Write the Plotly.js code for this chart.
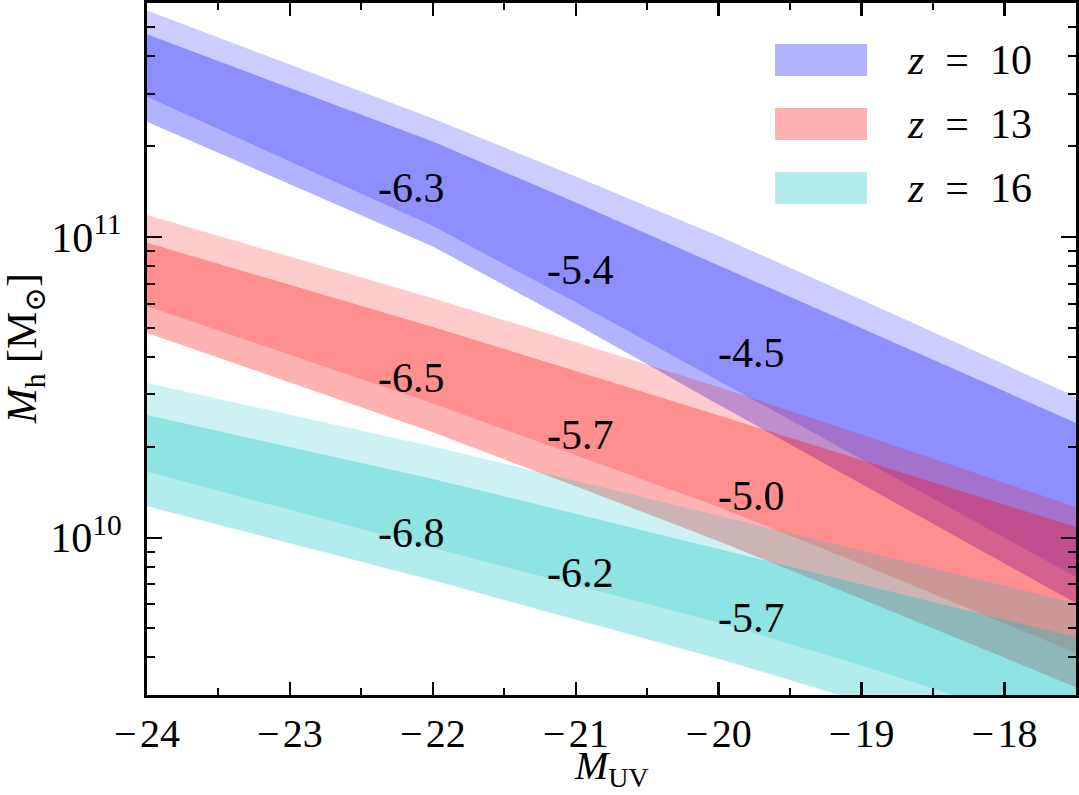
<!DOCTYPE html>
<html><head><meta charset="utf-8">
<script src="https://cdn.plot.ly/plotly-3.0.1.min.js"></script>
<style>html,body{margin:0;padding:0;background:#fff}#chart{width:1079px;height:795px}</style>
</head><body><div id="chart"></div>
<script>
// Absolute UV magnitude grid
const M_UV = [-24, -23, -22, -21, -20, -19, -18, -17.5];

// z = 10 : band 1 (upper) and band 2 (lower), halo mass [M_sun]
const z10_band1_hi = [5.66e11, 3.75e11, 2.48e11, 1.589e11, 1.007e11, 6.19e10, 3.77e10, 2.94e10];
const z10_band1_lo = [2.927e11, 1.785e11, 1.087e11, 6.07e10, 3.316e10, 1.818e10, 9.99e9, 7.40e9];
const z10_band2_hi = [4.72e11, 3.131e11, 2.077e11, 1.302e11, 8.06e10, 4.97e10, 3.068e10, 2.406e10];
const z10_band2_lo = [2.417e11, 1.499e11, 9.30e10, 5.14e10, 2.770e10, 1.505e10, 8.22e9, 6.06e9];

// z = 13
const z13_band1_hi = [1.183e11, 8.61e10, 6.26e10, 4.467e10, 3.170e10, 2.204e10, 1.522e10, 1.265e10];
const z13_band1_lo = [5.89e10, 4.06e10, 2.796e10, 1.885e10, 1.265e10, 8.17e9, 5.19e9, 4.135e9];
const z13_band2_hi = [9.57e10, 6.93e10, 5.02e10, 3.585e10, 2.554e10, 1.815e10, 1.288e10, 1.085e10];
const z13_band2_lo = [4.80e10, 3.281e10, 2.242e10, 1.483e10, 9.74e9, 6.26e9, 3.994e9, 3.186e9];

// z = 16
const z16_band1_hi = [3.269e10, 2.566e10, 2.013e10, 1.548e10, 1.184e10, 9.06e9, 6.93e9, 6.06e9];
const z16_band1_lo = [1.657e10, 1.239e10, 9.25e9, 6.95e9, 5.23e9, 3.757e9, 2.647e9, 2.223e9];
const z16_band2_hi = [2.558e10, 2.002e10, 1.568e10, 1.202e10, 9.18e9, 7.01e9, 5.35e9, 4.67e9];
const z16_band2_lo = [1.274e10, 9.59e9, 7.22e9, 5.355e9, 3.960e9, 2.852e9, 2.032e9, 1.713e9];

// In-band number labels
const labelM = [-22.15, -20.97, -19.77];
const z10_labels = ['-6.3', '-5.4', '-4.5'];
const z10_labelMh = [1.455e11, 7.76e10, 4.11e10];
const z13_labels = ['-6.5', '-5.7', '-5.0'];
const z13_labelMh = [3.40e10, 2.19e10, 1.374e10];
const z16_labels = ['-6.8', '-6.2', '-5.7'];
const z16_labelMh = [1.035e10, 7.62e9, 5.41e9];

// Legend
const redshifts = ['10', '13', '16'];
const rgb = ['0,0,255', '255,0,0', '0,191,191'];

const xTicks = [-24, -23, -22, -21, -20, -19, -18];
const xTickText = xTicks.map(v => '\u2212\u200A' + Math.abs(v));
const yTicks = [1e10, 1e11];
const yTickText = ['10<sup>10</sup>', '10<sup>11</sup>'];

const FONT = "Liberation Serif, DejaVu Serif, serif";
const FS = 42;

function band(hi, lo, color, alpha) {
  return {
    x: M_UV.concat(M_UV.slice().reverse()),
    y: hi.concat(lo.slice().reverse()),
    type: 'scatter', mode: 'lines', fill: 'toself',
    fillcolor: 'rgba(' + color + ',' + alpha + ')',
    line: {width: 0, color: 'rgba(0,0,0,0)'},
    hoverinfo: 'skip', showlegend: false
  };
}

const traces = [
  band(z10_band1_hi, z10_band1_lo, rgb[0], 0.2),
  band(z10_band2_hi, z10_band2_lo, rgb[0], 0.3),
  band(z13_band1_hi, z13_band1_lo, rgb[1], 0.2),
  band(z13_band2_hi, z13_band2_lo, rgb[1], 0.3),
  band(z16_band1_hi, z16_band1_lo, rgb[2], 0.2),
  band(z16_band2_hi, z16_band2_lo, rgb[2], 0.3)
];

const annotations = [];
[[z10_labels, z10_labelMh], [z13_labels, z13_labelMh], [z16_labels, z16_labelMh]].forEach(([txt, mh]) => {
  txt.forEach((t, i) => {
    annotations.push({x: labelM[i], y: Math.log10(mh[i]), xref: 'x', yref: 'y', text: t,
      showarrow: false, font: {family: FONT, size: FS, color: '#000'}});
  });
});

const shapes = [];
const legTop = [0.9408, 0.8483, 0.7558];
redshifts.forEach((z, i) => {
  shapes.push({type: 'rect', xref: 'paper', yref: 'paper', x0: 0.676, x1: 0.775,
    y0: legTop[i] - 0.0463, y1: legTop[i], fillcolor: 'rgba(' + rgb[i] + ',0.3)', line: {width: 0}});
  annotations.push({xref: 'paper', yref: 'paper', x: 0.816, y: legTop[i] - 0.0232, xanchor: 'left',
    yanchor: 'middle', showarrow: false, text: '<i>z</i>\u2002=\u2002' + z,
    font: {family: FONT, size: FS, color: '#000'}});
});

// Axis titles
annotations.push({xref: 'paper', yref: 'paper', x: 0.5, y: -0.1435, xanchor: 'center', yanchor: 'bottom',
  borderpad: 0, showarrow: false, text: '<i>M</i><sub>UV</sub>', font: {family: FONT, size: 40, color: '#000'}});
annotations.push({xref: 'paper', yref: 'paper', x: -0.131, y: 0.5, xanchor: 'center', yanchor: 'middle',
  textangle: -90, showarrow: false, text: '<i>M</i><sub>h</sub> [M<sub>\u2299</sub>]',
  font: {family: FONT, size: FS, color: '#000'}});

const layout = {
  width: 1079, height: 795,
  margin: {l: 147, r: 3, t: 3, b: 100, pad: 0},
  paper_bgcolor: '#fff', plot_bgcolor: '#fff',
  showlegend: false,
  font: {family: FONT, size: FS, color: '#000'},
  xaxis: {
    range: [-24, -17.5], showgrid: false, zeroline: false,
    showline: true, linecolor: '#000', linewidth: 3, mirror: 'allticks',
    ticks: 'inside', ticklen: 13, tickwidth: 2.5, tickcolor: '#000',
    tickvals: xTicks, ticktext: xTickText, ticklabelstandoff: 1,
    tickfont: {family: FONT, size: 40, color: '#000'},
    minor: {ticks: 'inside', dtick: 0.5, tick0: -24, ticklen: 7, tickwidth: 2, tickcolor: '#000', showgrid: false}
  },
  yaxis: {
    type: 'log', range: [Math.log10(3e9), Math.log10(6e11)], showgrid: false, zeroline: false,
    showline: true, linecolor: '#000', linewidth: 3, mirror: 'allticks',
    ticks: 'inside', ticklen: 15, tickwidth: 2.5, tickcolor: '#000',
    tickvals: yTicks, ticktext: yTickText, ticklabelstandoff: 14,
    tickfont: {family: FONT, size: FS, color: '#000'},
    minor: {ticks: 'inside', dtick: 'D1', ticklen: 8, tickwidth: 2, tickcolor: '#000', showgrid: false}
  },
  annotations: annotations,
  shapes: shapes
};

Plotly.newPlot('chart', traces, layout, {staticPlot: true, displayModeBar: false});
</script>
</body></html>
